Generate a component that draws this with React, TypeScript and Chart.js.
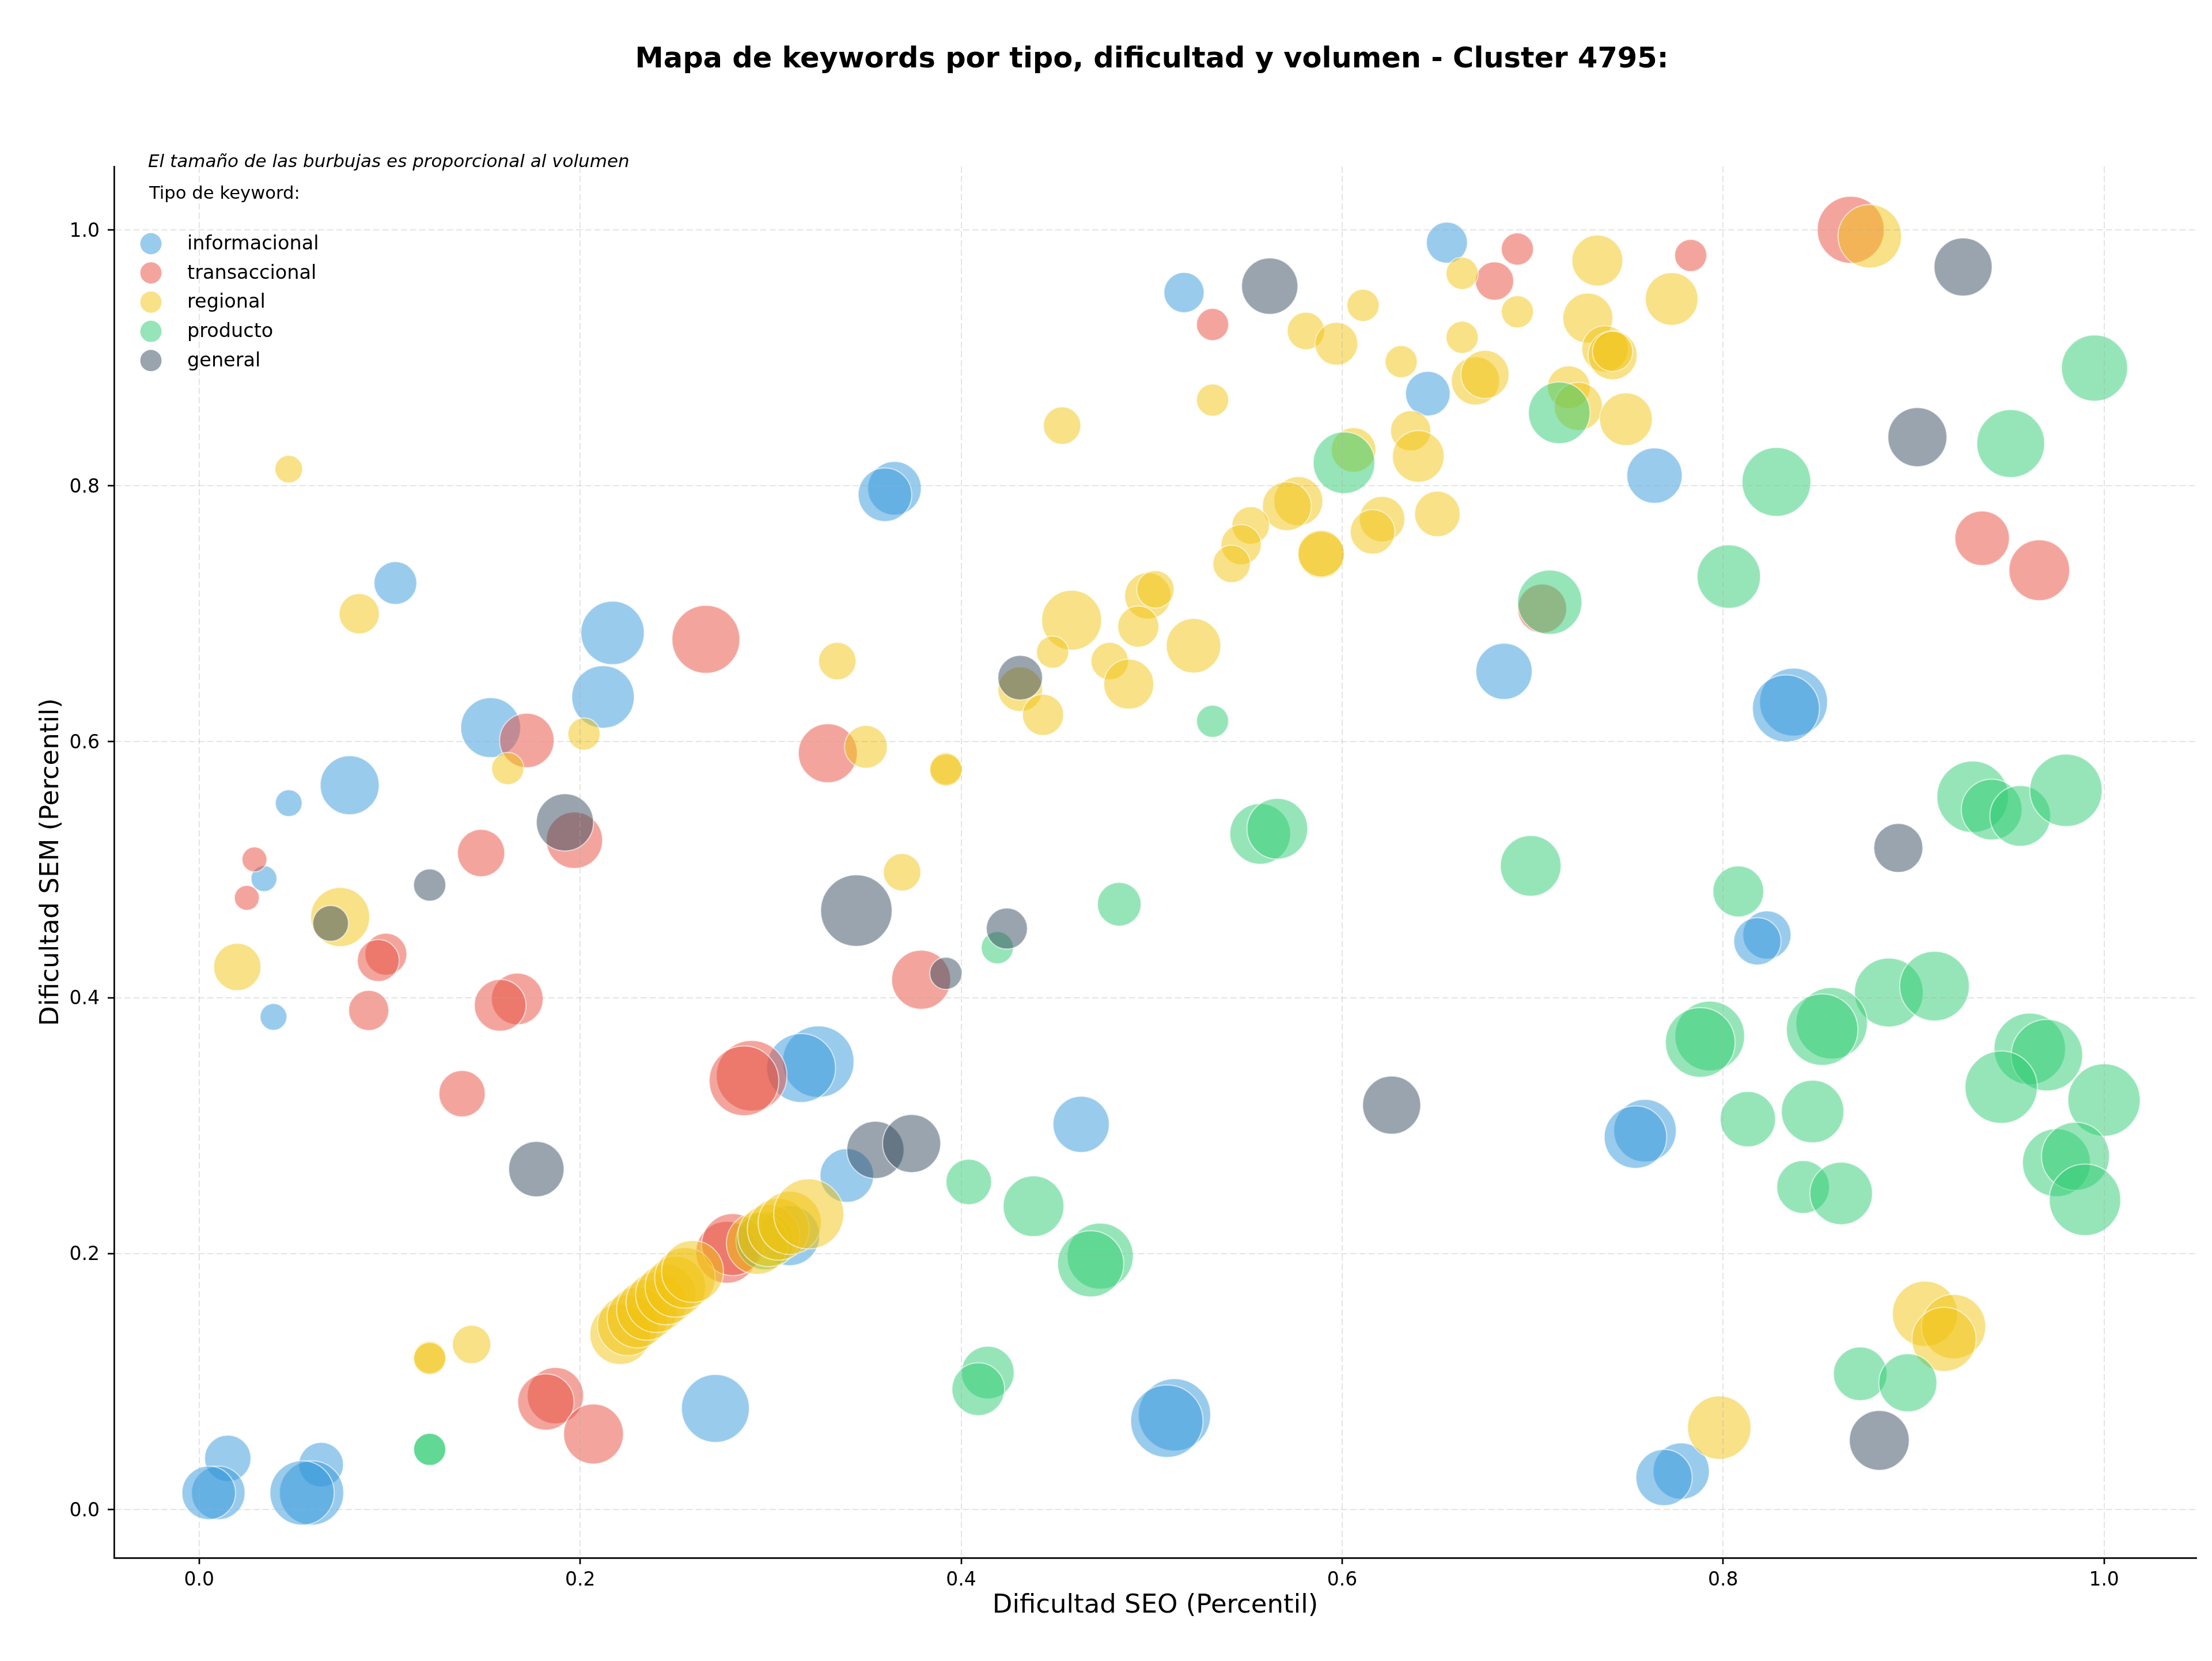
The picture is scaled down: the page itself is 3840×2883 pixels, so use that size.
import { useEffect, useRef } from "react";
import { Chart, registerables } from "chart.js";

Chart.register(...registerables);

const TITLE = "Mapa de keywords por tipo, dificultad y volumen - Cluster 4795:";
const NOTE = "El tamaño de las burbujas es proporcional al volumen";
const LEGEND_TITLE = "Tipo de keyword:";
const X_LABEL = "Dificultad SEO (Percentil)";
const Y_LABEL = "Dificultad SEM (Percentil)";

const TYPES = ["informacional", "transaccional", "regional", "producto", "general"];
const TYPE_COLORS = ["#3498db", "#e74c3c", "#f1c40f", "#2ecc71", "#34495e"];

const X_TICKS = [0.0, 0.2, 0.4, 0.6, 0.8, 1.0];
const Y_TICKS = [0.0, 0.2, 0.4, 0.6, 0.8, 1.0];

// informacional
const INFO_SEO = [0.103, 0.217, 0.212, 0.153, 0.079, 0.047, 0.655, 0.517, 0.645, 0.365, 0.360, 0.685, 0.764, 0.837, 0.833, 0.034, 0.039, 0.325, 0.316, 0.271, 0.015, 0.010, 0.005, 0.064, 0.059, 0.054, 0.463, 0.340, 0.512, 0.508, 0.823, 0.818, 0.759, 0.754, 0.778, 0.769, 0.310];
const INFO_SEM = [0.724, 0.685, 0.635, 0.611, 0.566, 0.552, 0.990, 0.951, 0.872, 0.798, 0.793, 0.655, 0.808, 0.631, 0.626, 0.493, 0.385, 0.350, 0.345, 0.079, 0.040, 0.013, 0.013, 0.035, 0.013, 0.013, 0.301, 0.261, 0.074, 0.069, 0.449, 0.444, 0.296, 0.291, 0.030, 0.025, 0.214];
const INFO_VOL = [230, 504, 490, 449, 436, 90, 212, 203, 250, 360, 360, 397, 384, 578, 562, 84, 90, 640, 593, 578, 270, 360, 360, 250, 518, 518, 397, 360, 656, 656, 292, 281, 490, 490, 397, 397, 450];

// transaccional
const TRANS_SEO = [0.266, 0.172, 0.197, 0.148, 0.029, 0.330, 0.680, 0.532, 0.692, 0.783, 0.867, 0.936, 0.966, 0.705, 0.025, 0.098, 0.094, 0.089, 0.167, 0.158, 0.138, 0.290, 0.286, 0.187, 0.182, 0.207, 0.379, 0.277, 0.280];
const TRANS_SEM = [0.680, 0.601, 0.523, 0.513, 0.508, 0.591, 0.960, 0.926, 0.985, 0.980, 1.000, 0.759, 0.734, 0.704, 0.478, 0.434, 0.429, 0.390, 0.399, 0.394, 0.325, 0.339, 0.335, 0.089, 0.084, 0.059, 0.414, 0.201, 0.207];
const TRANS_VOL = [578, 372, 397, 281, 78, 436, 185, 130, 130, 130, 562, 372, 462, 302, 78, 221, 221, 203, 336, 336, 270, 624, 608, 397, 397, 449, 436, 480, 480];

// regional
const REG_SEO = [0.047, 0.084, 0.202, 0.162, 0.663, 0.692, 0.581, 0.597, 0.611, 0.631, 0.663, 0.670, 0.675, 0.532, 0.453, 0.606, 0.636, 0.640, 0.577, 0.571, 0.552, 0.547, 0.542, 0.589, 0.589, 0.621, 0.616, 0.650, 0.458, 0.498, 0.502, 0.493, 0.522, 0.448, 0.478, 0.488, 0.431, 0.443, 0.335, 0.350, 0.392, 0.392, 0.369, 0.734, 0.773, 0.729, 0.738, 0.742, 0.742, 0.719, 0.724, 0.749, 0.877, 0.074, 0.020, 0.143, 0.121, 0.121, 0.906, 0.921, 0.916, 0.798, 0.221, 0.225, 0.230, 0.235, 0.240, 0.245, 0.250, 0.255, 0.259, 0.293, 0.299, 0.304, 0.310, 0.320];
const REG_SEM = [0.813, 0.700, 0.606, 0.579, 0.966, 0.936, 0.921, 0.911, 0.941, 0.897, 0.916, 0.882, 0.887, 0.867, 0.847, 0.828, 0.843, 0.823, 0.788, 0.784, 0.769, 0.754, 0.739, 0.746, 0.747, 0.774, 0.764, 0.778, 0.695, 0.714, 0.719, 0.690, 0.675, 0.670, 0.663, 0.645, 0.641, 0.621, 0.663, 0.596, 0.579, 0.578, 0.498, 0.976, 0.946, 0.931, 0.907, 0.902, 0.905, 0.877, 0.862, 0.852, 0.995, 0.463, 0.424, 0.129, 0.119, 0.118, 0.153, 0.143, 0.133, 0.064, 0.137, 0.144, 0.150, 0.156, 0.162, 0.168, 0.174, 0.181, 0.186, 0.208, 0.214, 0.219, 0.224, 0.231];
const REG_VOL = [96, 203, 130, 130, 130, 130, 176, 230, 130, 130, 130, 292, 292, 130, 176, 250, 203, 336, 302, 302, 176, 203, 176, 270, 270, 260, 250, 260, 449, 270, 176, 212, 372, 130, 176, 314, 250, 212, 176, 230, 130, 130, 176, 325, 348, 314, 270, 302, 203, 230, 292, 348, 504, 436, 281, 185, 130, 130, 533, 518, 518, 504, 460, 460, 460, 460, 460, 460, 460, 460, 480, 480, 480, 480, 500, 615];

// producto
const PROD_SEO = [0.601, 0.532, 0.557, 0.566, 0.714, 0.995, 0.951, 0.828, 0.803, 0.709, 0.931, 0.941, 0.956, 0.980, 0.699, 0.808, 0.887, 0.911, 0.793, 0.788, 0.857, 0.852, 0.961, 0.970, 0.946, 1.000, 0.813, 0.847, 0.842, 0.862, 0.975, 0.985, 0.990, 0.872, 0.897, 0.419, 0.483, 0.404, 0.438, 0.473, 0.468, 0.414, 0.409, 0.121, 0.121];
const PROD_SEM = [0.818, 0.616, 0.528, 0.532, 0.857, 0.892, 0.833, 0.803, 0.729, 0.709, 0.557, 0.547, 0.542, 0.562, 0.503, 0.483, 0.404, 0.409, 0.370, 0.365, 0.380, 0.375, 0.360, 0.355, 0.330, 0.320, 0.305, 0.311, 0.252, 0.247, 0.271, 0.276, 0.242, 0.106, 0.099, 0.439, 0.473, 0.256, 0.237, 0.198, 0.192, 0.107, 0.094, 0.047, 0.047];
const PROD_VOL = [476, 130, 462, 462, 476, 548, 578, 593, 504, 518, 640, 462, 462, 656, 462, 325, 593, 608, 608, 608, 640, 640, 640, 640, 656, 656, 384, 490, 348, 490, 578, 578, 640, 360, 423, 130, 240, 260, 462, 548, 548, 348, 348, 130, 130];

// producto keywords sitting inside the dense regional band (drawn beneath it)
const PROD_BAND_SEO = [0.297];
const PROD_BAND_SEM = [0.210];
const PROD_BAND_VOL = [420];

// general
const GEN_SEO = [0.562, 0.192, 0.431, 0.926, 0.902, 0.892, 0.121, 0.069, 0.177, 0.345, 0.392, 0.424, 0.626, 0.355, 0.374, 0.882];
const GEN_SEM = [0.956, 0.537, 0.650, 0.971, 0.838, 0.517, 0.488, 0.458, 0.266, 0.468, 0.419, 0.454, 0.316, 0.281, 0.286, 0.054];
const GEN_VOL = [397, 410, 250, 423, 436, 302, 130, 160, 384, 640, 130, 212, 423, 410, 423, 449];

// drawing layers, bottom to top; `type` indexes TYPES / TYPE_COLORS
const LAYERS = [
  { type: 0, seo: INFO_SEO, sem: INFO_SEM, vol: INFO_VOL },
  { type: 1, seo: TRANS_SEO, sem: TRANS_SEM, vol: TRANS_VOL },
  { type: 3, seo: PROD_BAND_SEO, sem: PROD_BAND_SEM, vol: PROD_BAND_VOL },
  { type: 2, seo: REG_SEO, sem: REG_SEM, vol: REG_VOL },
  { type: 3, seo: PROD_SEO, sem: PROD_SEM, vol: PROD_VOL },
  { type: 4, seo: GEN_SEO, sem: GEN_SEM, vol: GEN_VOL },
];

const W = 3840;
const H = 2883;
const FONT = '"DejaVu Sans", "Liberation Sans", sans-serif';

// bubble area proportional to volume
const bubbleRadius = (v: number) => Math.sqrt(v) * 2.45;

const withAlpha = (hex: string, a: number) => {
  const n = parseInt(hex.slice(1), 16);
  return `rgba(${(n >> 16) & 255}, ${(n >> 8) & 255}, ${n & 255}, ${a})`;
};

const overlayText = {
  id: "overlayText",
  afterDraw(chart: any) {
    const { ctx, chartArea } = chart;
    const { left, right, top, bottom } = chartArea;
    const cx = (left + right) / 2;
    ctx.save();
    ctx.fillStyle = "#000";
    ctx.textBaseline = "alphabetic";

    // title
    ctx.font = `bold 49.5px ${FONT}`;
    ctx.textAlign = "center";
    ctx.fillText(TITLE, cx - 6, 117);

    // size note
    ctx.font = `italic 31px ${FONT}`;
    ctx.textAlign = "left";
    ctx.fillText(NOTE, left + 59, top + 1);

    // legend
    ctx.font = `30.7px ${FONT}`;
    ctx.fillText(LEGEND_TITLE, left + 61, top + 56);
    ctx.font = `33.5px ${FONT}`;
    TYPES.forEach((name, i) => {
      const my = top + 134 + i * 50.7;
      ctx.beginPath();
      ctx.arc(left + 64, my, 18.5, 0, Math.PI * 2);
      ctx.fillStyle = withAlpha(TYPE_COLORS[i], 0.5);
      ctx.fill();
      ctx.fillStyle = "#000";
      ctx.fillText(name, left + 127, my + 10);
    });

    // axis titles
    ctx.font = `45px ${FONT}`;
    ctx.textAlign = "center";
    ctx.fillText(X_LABEL, cx, bottom + 95);
    ctx.save();
    ctx.translate(101, (top + bottom) / 2);
    ctx.rotate(-Math.PI / 2);
    ctx.fillText(Y_LABEL, 0, 0);
    ctx.restore();

    ctx.restore();
  },
};

export default function App() {
  const canvasRef = useRef<HTMLCanvasElement | null>(null);

  useEffect(() => {
    const canvas = canvasRef.current;
    if (!canvas) return;

    const datasets = LAYERS.map((s, k) => ({
      label: TYPES[s.type],
      data: s.seo.map((x, i) => ({ x, y: s.sem[i], r: bubbleRadius(s.vol[i]) })),
      backgroundColor: withAlpha(TYPE_COLORS[s.type], 0.5),
      borderColor: "rgba(255, 255, 255, 0.6)",
      borderWidth: 2,
      hoverBorderWidth: 2,
      // higher order is painted first
      order: LAYERS.length - k,
    }));

    const axisCommon = {
      type: "linear" as const,
      grid: {
        color: "rgba(170, 170, 170, 0.32)",
        lineWidth: 2,
        z: 1,
        tickLength: 11,
        tickColor: "#000",
        tickWidth: 2.7,
        tickBorderDash: [],
      },
      border: { display: true, color: "#000", width: 2.7, dash: [11, 5], z: 1 },
    };

    const chart = new Chart(canvas, {
      type: "bubble",
      data: { datasets },
      options: {
        responsive: false,
        maintainAspectRatio: false,
        devicePixelRatio: 1,
        animation: false,
        events: [],
        layout: { autoPadding: false, padding: { top: 289, right: 27, left: 0, bottom: 0 } },
        plugins: {
          legend: { display: false },
          title: { display: false },
          tooltip: { enabled: false },
        },
        scales: {
          x: {
            ...axisCommon,
            position: "bottom",
            min: -0.0447,
            max: 1.0485,
            afterFit: (scale: any) => {
              scale.height = H - 2704;
            },
            afterBuildTicks: (scale: any) => {
              scale.ticks = X_TICKS.map((value) => ({ value }));
            },
            ticks: {
              color: "#000",
              font: { family: FONT, size: 33 },
              padding: 9,
              maxRotation: 0,
              autoSkip: false,
              callback: (v: any) => Number(v).toFixed(1),
            },
          },
          y: {
            ...axisCommon,
            position: "left",
            min: -0.0378,
            max: 1.0495,
            afterFit: (scale: any) => {
              scale.width = 198;
            },
            afterBuildTicks: (scale: any) => {
              scale.ticks = Y_TICKS.map((value) => ({ value }));
            },
            ticks: {
              color: "#000",
              font: { family: FONT, size: 33 },
              padding: 14,
              labelOffset: 3,
              autoSkip: false,
              callback: (v: any) => Number(v).toFixed(1),
            },
          },
        },
      },
      plugins: [overlayText],
    } as any);

    return () => chart.destroy();
  }, []);

  return (
    <div
      style={{
        position: "absolute",
        left: 0,
        top: 0,
        width: W,
        height: H,
        background: "#fff",
      }}
    >
      <canvas ref={canvasRef} width={W} height={H} style={{ display: "block", width: W, height: H }} />
    </div>
  );
}
